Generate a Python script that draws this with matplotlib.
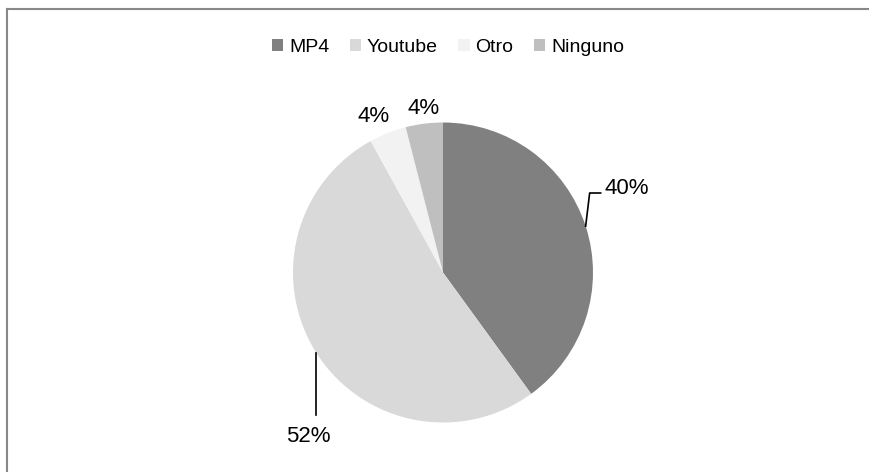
import matplotlib
matplotlib.use("Agg")
import matplotlib.pyplot as plt
import numpy as np
from matplotlib.lines import Line2D
from matplotlib.patches import Patch

categories = ["MP4", "Youtube", "Otro", "Ninguno"]
values = [40, 52, 4, 4]
labels = ["40%", "52%", "4%", "4%"]
colors = ["#808080", "#d9d9d9", "#f2f2f2", "#bfbfbf"]

plt.rcParams['font.family'] = ['Liberation Sans', 'DejaVu Sans']

W, H = 870, 472
fig = plt.figure(figsize=(W / 100, H / 100), dpi=100)
ax = fig.add_axes([0, 0, 1, 1])

cx, cy, r = 443, H - 272.5, 150
wedges, _ = ax.pie(values, colors=colors, startangle=90, counterclock=False,
                   center=(cx, cy), radius=r, frame=True,
                   wedgeprops=dict(linewidth=0))
ax.set_xlim(0, W)
ax.set_ylim(0, H)
ax.set_aspect('equal')
ax.axis('off')

fs = 16
mids = [np.deg2rad((w.theta1 + w.theta2) / 2) for w in wedges]

# MP4 label with bent leader
a = mids[0]
px, py = cx + r * np.cos(a), cy + r * np.sin(a)
ax.plot([px, px + 4, px + 15], [py, H - 193, H - 193], color='black', lw=1.2)
ax.text(px + 19, H - 188, labels[0], fontsize=fs, ha='left', va='center')

# Youtube label with vertical leader
a = mids[1]
px, py = cx + r * np.cos(a), cy + r * np.sin(a)
ax.plot([px, px], [py, H - 415], color='black', lw=1.2)
ax.text(px - 8, H - 437, labels[1], fontsize=fs, ha='center', va='center')

# Otro and Ninguno labels outside
for i, d, dx, dy in [(2, 1.12, -8, 0), (3, 1.12, 2, -3)]:
    a = mids[i]
    ax.text(cx + r * d * np.cos(a) + dx, cy + r * d * np.sin(a) + dy, labels[i],
            fontsize=fs, ha='center', va='center')

handles = [Patch(facecolor=c, edgecolor='none') for c in colors]
fig.legend(handles, categories, loc='center', bbox_to_anchor=(448 / W, 1 - 47 / H),
           ncol=4, frameon=False, fontsize=14, handlelength=0.58, handleheight=0.58,
           handletextpad=0.3, columnspacing=1.05)

# border lines (top and left)
fig.add_artist(Line2D([7 / W, 1], [1 - 9 / H, 1 - 9 / H], color='#888888', lw=1.5,
                      transform=fig.transFigure))
fig.add_artist(Line2D([7 / W, 7 / W], [0, 1 - 9 / H], color='#888888', lw=1.5,
                      transform=fig.transFigure))

fig.savefig("out.png", dpi=100, facecolor='white')
